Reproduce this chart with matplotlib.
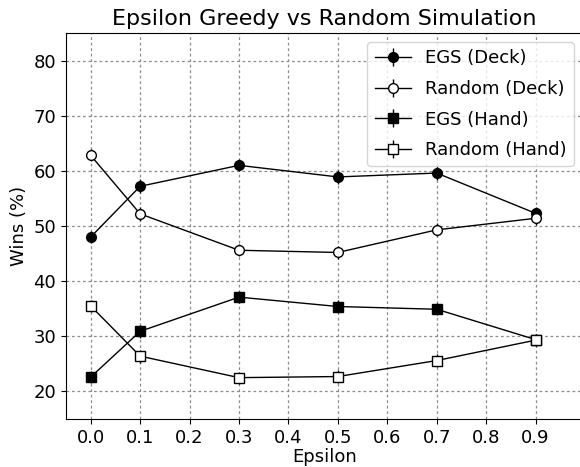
import numpy as np
import matplotlib
matplotlib.use("Agg")
import matplotlib.pyplot as plt

# Data
epsilon = [0.0, 0.1, 0.3, 0.5, 0.7, 0.9]
egs_deck = [48.0, 57.2, 61.0, 58.9, 59.6, 52.3]
rand_deck = [62.8, 52.2, 45.6, 45.2, 49.3, 51.4]
egs_hand = [22.6, 30.9, 37.1, 35.4, 34.9, 29.4]
rand_hand = [35.5, 26.4, 22.5, 22.7, 25.6, 29.3]
err_deck = [1.1, 1.3, 1.1, 1.2, 1.2, 1.2]
err_hand = [1.1, 1.2, 1.1, 1.1, 1.1, 1.1]

plt.rcParams['font.size'] = 13

fig = plt.figure(figsize=(5.8, 4.67), dpi=100)
ax = fig.add_axes([66 / 580, 1 - 419 / 467, (583 - 66) / 580, (419 - 33) / 467])

common = dict(color='black', lw=1.0, elinewidth=1.0, capsize=0, markersize=7,
              markeredgecolor='black', markeredgewidth=1.0)
ax.errorbar(epsilon, egs_deck, yerr=err_deck, fmt='-o', markerfacecolor='black',
            label='EGS (Deck)', **common)
ax.errorbar(epsilon, rand_deck, yerr=err_deck, fmt='-o', markerfacecolor='white',
            label='Random (Deck)', **common)
ax.errorbar(epsilon, egs_hand, yerr=err_hand, fmt='-s', markerfacecolor='black',
            label='EGS (Hand)', **common)
ax.errorbar(epsilon, rand_hand, yerr=err_hand, fmt='-s', markerfacecolor='white',
            label='Random (Hand)', **common)

ax.set_xlim(-0.05, (583 - 90) / 495)
ax.set_ylim(15, 85)
ax.set_xticks(np.arange(0, 1.0, 0.1))
ax.set_xticklabels(['%.1f' % t for t in np.arange(0, 1.0, 0.1)])
ax.set_yticks(range(20, 81, 10))
ax.grid(True, linestyle=(0, (2.2, 2.2)), color='0.55', lw=0.9)
ax.set_axisbelow(True)

ax.set_xlabel('Epsilon', labelpad=1)
ax.set_ylabel('Wins (%)')
ax.set_title('Epsilon Greedy vs Random Simulation', fontsize=16)
ax.legend(loc='upper right', fontsize=13, labelspacing=0.7)

fig.savefig('out.png', dpi=100)
